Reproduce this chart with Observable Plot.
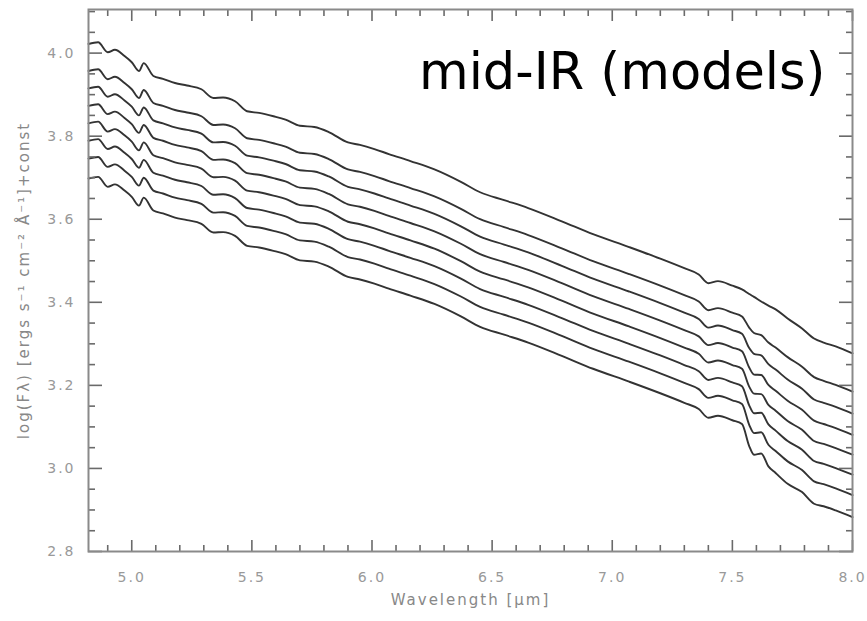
<!DOCTYPE html>
<html><head><meta charset="utf-8">
<script src="https://cdn.jsdelivr.net/npm/d3@7"></script>
<script src="https://cdn.jsdelivr.net/npm/@observablehq/plot@0.6"></script>
<style>
html,body{margin:0;padding:0;background:#fff;overflow:hidden;}
#chart svg g[aria-label="x-axis tick label"], #chart svg g[aria-label="y-axis tick label"]{letter-spacing:2px;}
#chart svg .axis-title{letter-spacing:2px;}
</style></head><body><div id="chart"></div>
<script>
const wavelengths = [4.82,4.86,4.90,4.93,4.97,5.00,5.03,5.05,5.09,5.13,5.18,5.23,5.29,5.34,5.38,5.43,5.48,5.53,5.59,5.64,5.70,5.76,5.82,5.90,5.95,6.01,6.07,6.16,6.26,6.37,6.45,6.55,6.65,6.79,6.92,7.07,7.20,7.30,7.36,7.40,7.44,7.50,7.54,7.57,7.59,7.62,7.65,7.68,7.73,7.79,7.84,7.88,7.93,8.00];
const model1 = [4.022,4.026,4.002,4.008,3.993,3.978,3.957,3.976,3.945,3.938,3.928,3.922,3.913,3.892,3.893,3.884,3.860,3.856,3.848,3.840,3.825,3.822,3.810,3.785,3.779,3.769,3.757,3.740,3.720,3.690,3.665,3.646,3.627,3.595,3.564,3.533,3.505,3.482,3.467,3.446,3.451,3.440,3.431,3.420,3.413,3.402,3.392,3.383,3.361,3.337,3.313,3.303,3.294,3.277];
const model2 = [3.957,3.961,3.937,3.943,3.928,3.913,3.892,3.911,3.880,3.873,3.863,3.857,3.848,3.827,3.828,3.819,3.795,3.791,3.783,3.775,3.760,3.757,3.745,3.720,3.714,3.704,3.692,3.675,3.655,3.625,3.600,3.581,3.562,3.530,3.499,3.468,3.440,3.417,3.402,3.381,3.386,3.375,3.366,3.339,3.326,3.321,3.303,3.291,3.268,3.245,3.220,3.211,3.201,3.185];
const model3 = [3.915,3.919,3.895,3.901,3.886,3.871,3.850,3.869,3.838,3.831,3.821,3.815,3.806,3.785,3.786,3.777,3.753,3.749,3.741,3.733,3.718,3.715,3.703,3.678,3.672,3.662,3.650,3.633,3.613,3.583,3.558,3.539,3.520,3.488,3.457,3.426,3.398,3.375,3.360,3.339,3.344,3.333,3.324,3.290,3.276,3.272,3.251,3.238,3.214,3.192,3.166,3.158,3.148,3.132];
const model4 = [3.873,3.877,3.853,3.859,3.844,3.829,3.808,3.827,3.796,3.789,3.779,3.773,3.764,3.743,3.744,3.735,3.711,3.707,3.699,3.691,3.676,3.673,3.661,3.636,3.630,3.620,3.608,3.591,3.571,3.541,3.516,3.497,3.478,3.446,3.415,3.384,3.356,3.333,3.318,3.297,3.302,3.291,3.282,3.243,3.226,3.225,3.201,3.187,3.163,3.141,3.115,3.107,3.097,3.081];
const model5 = [3.831,3.835,3.811,3.817,3.802,3.787,3.766,3.785,3.754,3.747,3.737,3.731,3.722,3.701,3.702,3.693,3.669,3.665,3.657,3.649,3.634,3.631,3.619,3.594,3.588,3.578,3.566,3.549,3.529,3.499,3.474,3.455,3.436,3.404,3.373,3.342,3.314,3.291,3.276,3.255,3.260,3.249,3.240,3.197,3.180,3.179,3.153,3.139,3.114,3.093,3.066,3.059,3.049,3.033];
const model6 = [3.789,3.793,3.769,3.775,3.760,3.745,3.724,3.743,3.712,3.705,3.695,3.689,3.680,3.659,3.660,3.651,3.627,3.623,3.615,3.607,3.592,3.589,3.577,3.552,3.546,3.536,3.524,3.507,3.487,3.457,3.432,3.413,3.394,3.362,3.331,3.300,3.272,3.249,3.234,3.213,3.218,3.207,3.198,3.152,3.133,3.134,3.106,3.091,3.066,3.045,3.018,3.011,3.001,2.985];
const model7 = [3.746,3.750,3.726,3.732,3.717,3.702,3.681,3.700,3.669,3.662,3.652,3.646,3.637,3.616,3.617,3.608,3.584,3.580,3.572,3.564,3.549,3.546,3.534,3.509,3.503,3.493,3.481,3.464,3.444,3.414,3.389,3.370,3.351,3.319,3.288,3.257,3.229,3.206,3.191,3.170,3.175,3.164,3.155,3.105,3.085,3.087,3.057,3.042,3.017,2.996,2.969,2.962,2.952,2.936];
const model8 = [3.698,3.702,3.678,3.684,3.669,3.654,3.633,3.652,3.621,3.614,3.604,3.598,3.589,3.568,3.569,3.560,3.536,3.532,3.524,3.516,3.501,3.498,3.486,3.461,3.455,3.445,3.433,3.416,3.396,3.366,3.341,3.322,3.303,3.271,3.240,3.209,3.181,3.158,3.143,3.122,3.127,3.116,3.107,3.054,3.033,3.036,3.005,2.989,2.963,2.943,2.915,2.909,2.899,2.883];

const xTicks = [5.0,5.5,6.0,6.5,7.0,7.5,8.0];
const xMinorTicks = [4.9,5.1,5.2,5.3,5.4,5.6,5.7,5.8,5.9,6.1,6.2,6.3,6.4,6.6,6.7,6.8,6.9,7.1,7.2,7.3,7.4,7.6,7.7,7.8,7.9];
const yTicks = [2.8,3.0,3.2,3.4,3.6,3.8,4.0];
const yMinorTicks = [2.85,2.9,2.95,3.05,3.1,3.15,3.25,3.3,3.35,3.45,3.5,3.55,3.65,3.7,3.75,3.85,3.9,3.95,4.05,4.1];
const title = "mid-IR (models)";
const xLabel = "Wavelength [\u03bcm]";
const yLabel = "log(F\u03bb) [ergs s\u207b\u00b9 cm\u207b\u00b2 \u00c5\u207b\u00b9]+const";

const series = [model1, model2, model3, model4, model5, model6, model7, model8];
const rows = series.flatMap((vals, i) => vals.map((v, j) => ({model: i + 1, wavelength: wavelengths[j], flux: v})));

const W = 867, H = 621, mL = 88, mR = 15, mT = 9, mB = 70;
const axisGray = "#8a8a8a";
const tickGray = "#6a6a6a";
const noText = () => "";
const tk = {tickFormat: noText, stroke: tickGray, strokeWidth: 1.6, label: null};

const chart = Plot.plot({
  width: W, height: H,
  marginLeft: mL, marginRight: mR, marginTop: mT, marginBottom: mB,
  style: {fontFamily: "DejaVu Sans", background: "#fff"},
  x: {domain: [4.82, 8.0]},
  y: {domain: [2.8, 4.105]},
  marks: [
    Plot.line(rows, {x: "wavelength", y: "flux", z: "model", stroke: "#333", strokeWidth: 1.9, curve: "monotone-x"}),
    // inward ticks on all four sides (IDL style)
    Plot.axisX({anchor: "bottom", ticks: xTicks, tickSize: 11, dy: -11, ...tk}),
    Plot.axisX({anchor: "bottom", ticks: xMinorTicks, tickSize: 6, dy: -6, ...tk}),
    Plot.axisX({anchor: "top", ticks: xTicks, tickSize: 11, dy: 11, ...tk}),
    Plot.axisX({anchor: "top", ticks: xMinorTicks, tickSize: 6, dy: 6, ...tk}),
    Plot.axisY({anchor: "left", ticks: yTicks, tickSize: 14, dx: 14, ...tk}),
    Plot.axisY({anchor: "left", ticks: yMinorTicks, tickSize: 7, dx: 7, ...tk}),
    Plot.axisY({anchor: "right", ticks: yTicks, tickSize: 14, dx: -14, ...tk}),
    Plot.axisY({anchor: "right", ticks: yMinorTicks, tickSize: 7, dx: -7, ...tk}),
    Plot.frame({stroke: axisGray, strokeWidth: 2}),
    Plot.axisX({anchor: "bottom", ticks: xTicks, tickSize: 0, tickPadding: 21, tickFormat: d3.format(".1f"), fontSize: 14, color: "#999", label: null}),
    Plot.axisY({anchor: "left", ticks: yTicks, tickSize: 0, tickPadding: 13, tickFormat: d3.format(".1f"), fontSize: 14, color: "#999", label: null}),
    Plot.text([xLabel], {frameAnchor: "bottom", dy: 49, lineAnchor: "middle", textAnchor: "middle", fontSize: 15, fill: "#888", className: "axis-title"}),
    Plot.text([yLabel], {frameAnchor: "left", dx: -64, rotate: -90, lineAnchor: "middle", textAnchor: "middle", fontSize: 15, fill: "#888", className: "axis-title"}),
    Plot.text([title], {frameAnchor: "top-right", dx: -27, dy: 43, lineAnchor: "top", textAnchor: "end", fontSize: 51, fill: "#000"})
  ]
});
document.getElementById("chart").append(chart);
</script>
</body></html>
